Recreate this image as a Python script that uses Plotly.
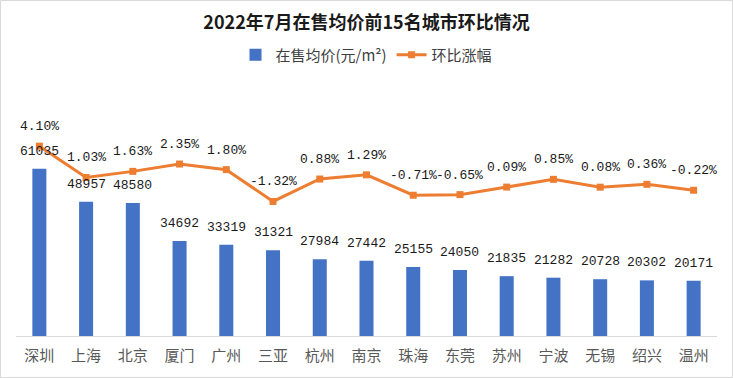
import plotly.graph_objects as go

cities = ["深圳", "上海", "北京", "厦门", "广州", "三亚", "杭州", "南京", "珠海", "东莞", "苏州", "宁波", "无锡", "绍兴", "温州"]
avg_price = [61035, 48957, 48580, 34692, 33319, 31321, 27984, 27442, 25155, 24050, 21835, 21282, 20728, 20302, 20171]
mom_change = [4.10, 1.03, 1.63, 2.35, 1.80, -1.32, 0.88, 1.29, -0.71, -0.65, 0.09, 0.85, 0.08, 0.36, -0.22]

W, H = 733, 378
ML, MR, MT, MB = 16, 16, 90, 42
PW, PH = W - ML - MR, H - MT - MB

BLUE = "#4472C4"
ORANGE = "#ED7D31"
LABEL_FONT = dict(family="Liberation Mono, DejaVu Sans Mono, monospace", size=13, color="#1a1a1a")

fig = go.Figure()
fig.add_trace(go.Bar(
    x=cities, y=avg_price, name="在售均价(元/m²)",
    marker=dict(color=BLUE, line=dict(width=0)),
    yaxis="y",
))
fig.add_trace(go.Scatter(
    x=cities, y=mom_change, name="环比涨幅",
    mode="lines+markers",
    line=dict(color=ORANGE, width=3),
    marker=dict(symbol="square", size=7, color=ORANGE),
    yaxis="y2",
))

annotations = []
for c, v in zip(cities, avg_price):
    annotations.append(dict(x=c, y=v, xref="x", yref="y", text=str(v), showarrow=False,
                            yanchor="bottom", yshift=8, font=LABEL_FONT))
for c, v in zip(cities, mom_change):
    annotations.append(dict(x=c, y=v, xref="x", yref="y2", text=f"{v:.2f}%", showarrow=False,
                            yanchor="bottom", yshift=10, font=LABEL_FONT))

fig.update_layout(
    width=W, height=H,
    margin=dict(l=ML, r=MR, t=MT, b=MB, pad=0, autoexpand=False),
    paper_bgcolor="white", plot_bgcolor="white",
    bargap=0.7,
    showlegend=True,
    title=dict(text="<b>2022年7月在售均价前15名城市环比情况</b>", x=0.5, xanchor="center",
               y=1 - 23 / H, yanchor="middle",
               font=dict(family="Noto Sans CJK SC, sans-serif", size=18, color="#1a1a1a")),
    legend=dict(orientation="h", x=0.5, xanchor="center", y=(336 - 55) / PH, yanchor="middle",
                font=dict(family="Noto Sans CJK SC, sans-serif", size=15, color="#404040"),
                bgcolor="rgba(0,0,0,0)", itemwidth=30),
    xaxis=dict(range=[-0.5, len(cities) - 0.5], autorange=False,
               showline=True, linecolor="#d9d9d9", linewidth=1, showgrid=False, ticks="",
               tickfont=dict(family="Noto Sans CJK SC, sans-serif", size=15, color="#595959"),
               ticklabelstandoff=6, automargin=False),
    yaxis=dict(range=[0, PH * 365], visible=False, showgrid=False, zeroline=False, automargin=False),
    yaxis2=dict(range=[-(336 - 188) / 10.2, (188 - MT) / 10.2], overlaying="y", side="right",
                visible=False, showgrid=False, zeroline=False, automargin=False),
    annotations=annotations,
    shapes=[dict(type="rect", xref="paper", yref="paper",
                 x0=(0.5 - ML) / PW, x1=(W - 0.5 - ML) / PW,
                 y0=(336 - (H - 0.5)) / PH, y1=(336 - 0.5) / PH,
                 line=dict(color="#d9d9d9", width=1), fillcolor="rgba(0,0,0,0)", layer="below")],
)

fig.write_html("out.html", config={"displayModeBar": False},
               post_script="document.body.style.margin='0';document.body.style.overflow='hidden';")
